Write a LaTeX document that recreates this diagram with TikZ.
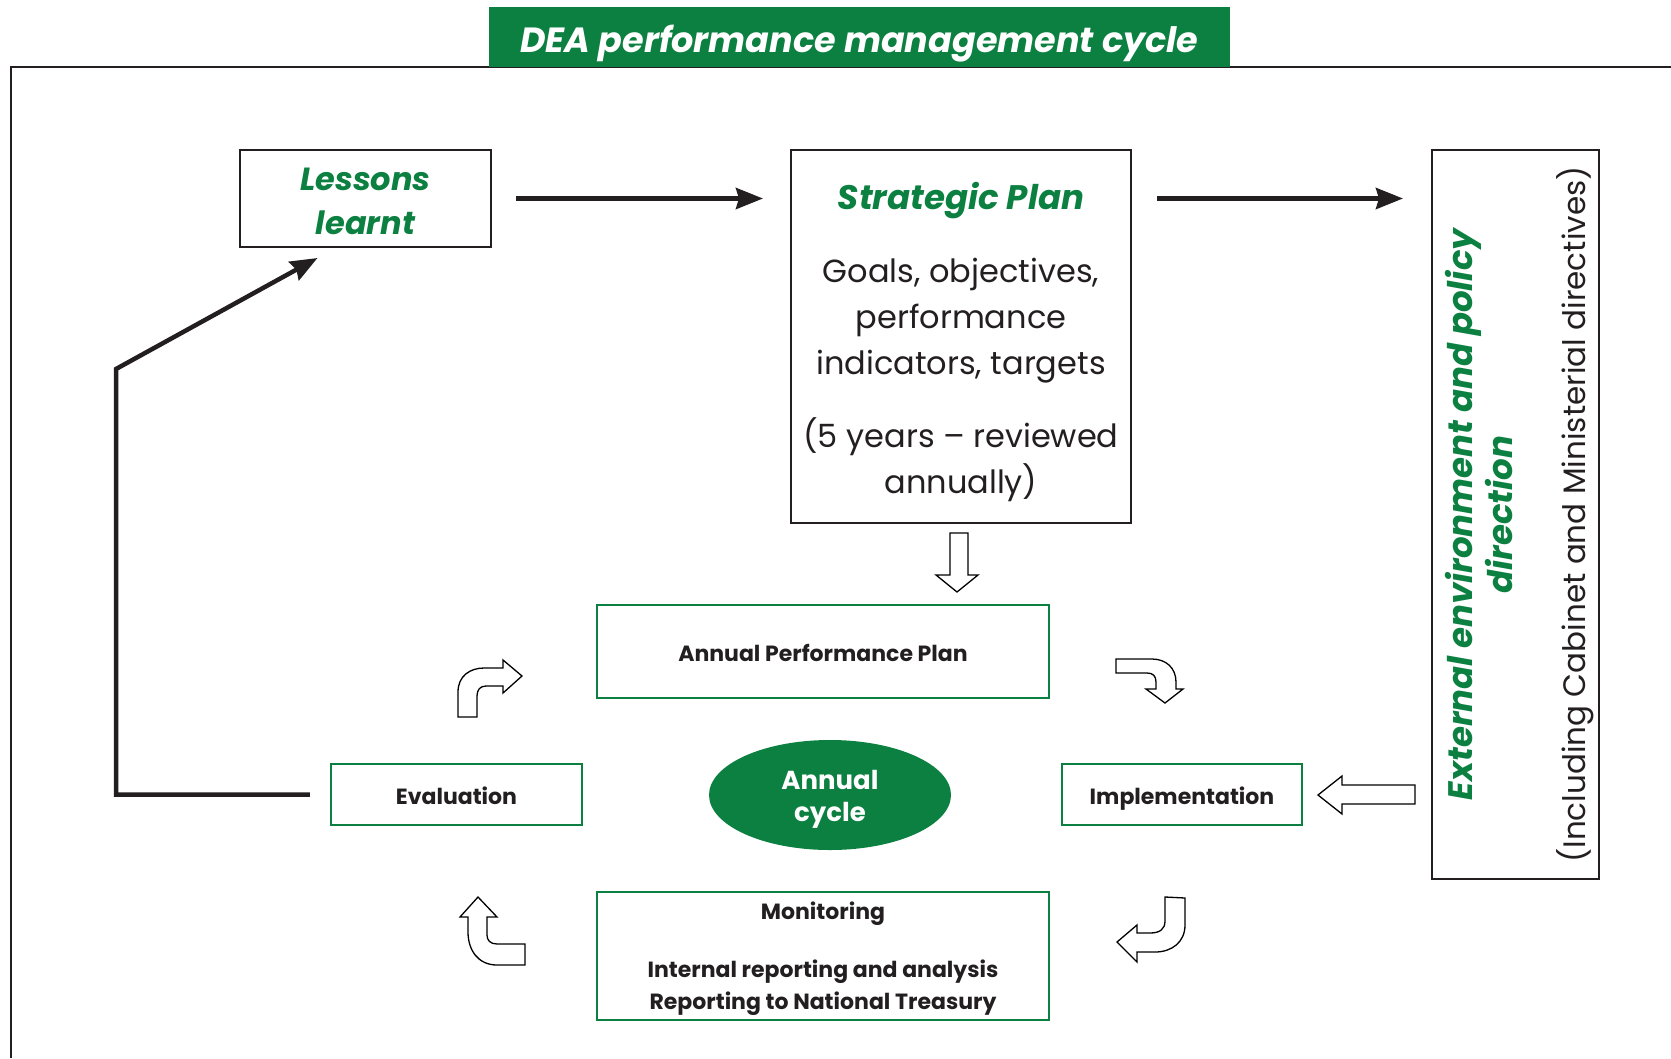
\documentclass[tikz,border=0pt]{standalone}
\usepackage{fontspec}
\setmainfont{Poppins}
\usetikzlibrary{arrows.meta,calc,shapes.geometric}
\definecolor{deagreen}{RGB}{11,128,64}
\definecolor{ink}{RGB}{35,31,32}
\tikzset{plainbox/.style={rectangle,draw=ink,line width=2pt,inner sep=0pt}}
\tikzset{cyclebox/.style={rectangle,draw=deagreen,line width=2.5pt,inner sep=0pt,text=ink,text height=19pt,text depth=0pt,font=\fontsize{22}{32}\selectfont\bfseries}}
\tikzset{boxlabel/.style={align=center,text=ink,inner sep=0pt}}
\tikzset{flow/.style={draw=ink,line width=4.5pt,-{Stealth[length=27pt,width=21pt,inset=3pt]}}}
\tikzset{hollow/.style={draw=black,line width=1.3pt,fill=white,line join=miter}}

\begin{document}
\begin{tikzpicture}[x=1pt,y=-1pt]
  \useasboundingbox (0,0) rectangle (1671,1058);
  \draw[ink,line width=1.5pt] (11,1058) -- (11,67) -- (1671,67);
  \node[fill=deagreen,minimum width=741pt,minimum height=60pt,inner sep=0pt,text=white,text height=30pt,text depth=0pt,font=\fontsize{35}{40}\selectfont\bfseries\itshape] (title) at (859.5,37) {DEA performance management cycle};
  \node[plainbox,minimum width=251pt,minimum height=97pt] (lessons) at (365.5,198.5) {};
  \node[boxlabel,text=deagreen,font=\fontsize{32}{44}\selectfont\bfseries\itshape] (lessonstext) at ($(lessons)+(0,2.6)$) {Lessons\\ learnt};
  \node[plainbox,minimum width=340pt,minimum height=373pt] (strat) at (961,336.5) {};
  \node[boxlabel,font=\fontsize{32}{46}\selectfont] (strattext) at ($(strat)+(0,5.5)$) {{\color{deagreen}\bfseries\itshape\fontsize{34}{46}\selectfont Strategic Plan}\\[27.5pt] Goals, objectives,\\ performance\\ indicators, targets\\[26.5pt] (5 years -- reviewed\\ annually)};
  \node[plainbox,minimum width=167pt,minimum height=729pt] (external) at (1515.5,514.5) {};
  \node[boxlabel,rotate=90,font=\fontsize{31}{40}\selectfont] (externaltext) at ($(external)+(4.5,0)$) {{\color{deagreen}\bfseries\itshape\fontsize{34}{39.5}\selectfont External environment and policy}\\ {\color{deagreen}\bfseries\itshape\fontsize{34}{39.5}\selectfont direction}\\[33pt] (Including Cabinet and Ministerial directives)};
  \node[cyclebox,minimum width=452pt,minimum height=93pt] (app) at (823,651.5) {Annual Performance Plan};
  \node[cyclebox,minimum width=452pt,minimum height=128pt] (mon) at (823,956) {};
  \node[boxlabel,font=\fontsize{22}{32}\selectfont\bfseries] (montext) at ($(mon)+(0,3)$) {Monitoring\\[26pt] Internal reporting and analysis\\ Reporting to National Treasury};
  \node[cyclebox,minimum width=251pt,minimum height=61pt] (eval) at (456.5,794.5) {Evaluation};
  \node[cyclebox,minimum width=240pt,minimum height=61pt] (impl) at (1182,794.5) {Implementation};
  \node[ellipse,fill=deagreen,inner sep=0pt,minimum width=242pt,minimum height=110pt] (cycle) at (830,795) {};
  \node[boxlabel,text=white,font=\fontsize{26}{32}\selectfont\bfseries] (cycletext) at ($(cycle)+(0,4)$) {Annual\\ cycle};
  \draw[flow,shorten <=24pt,shorten >=27pt] (lessons.east) -- (lessons.east -| strat.west);
  \draw[flow,shorten <=25pt,shorten >=28pt] (lessons.east -| strat.east) -- (lessons.east -| external.west);
  \coordinate (elbow) at (116,794.5);
  \coordinate (knee) at (116,369);
  \coordinate (lessonsin) at ($(lessons.south)+(-48,10)$);
  \draw[flow,shorten <=20pt] (eval.west) -- (elbow) -- (knee) -- (lessonsin);
  \draw[hollow] (950,533) -- (968,533) -- (968,575) -- (978,575) -- (957,592) -- (936,575) -- (950,575) -- cycle;
  \draw[hollow] (1415,785) -- (1342,785) -- (1342,776) -- (1318,795) -- (1342,814) -- (1342,804) -- (1415,804) -- cycle;
  \draw[hollow] (458,717) -- (458,692) .. controls (458,676) and (470,668) .. (484,668) -- (503,668) -- (503,660) -- (522,676) -- (503,693) -- (503,686) -- (486,686) .. controls (480,686) and (477,690) .. (477,696) -- (477,717) -- cycle;
  \draw[hollow] (1116,659) -- (1152,659) .. controls (1166,659) and (1176,668) .. (1176,682) -- (1176,689) -- (1183,689) -- (1165,703) -- (1146,689) -- (1156,689) -- (1156,682) .. controls (1156,676) and (1153,673) .. (1147,673) -- (1116,673) -- cycle;
  \draw[hollow] (1165,897) -- (1185,898) -- (1185,925) .. controls (1185,942) and (1172,952) .. (1155,952) -- (1137,952) -- (1137,962) -- (1117,942) -- (1137,925) -- (1137,933) -- (1150,933) .. controls (1160,933) and (1165,929) .. (1165,921) -- cycle;
  \draw[hollow] (478,897) -- (497,917) -- (487,917) -- (487,935) .. controls (487,940) and (490,944) .. (497,944) -- (525,944) -- (525,965) -- (497,965) .. controls (478,965) and (468,950) .. (468,932) -- (468,917) -- (460,917) -- cycle;
\end{tikzpicture}
\end{document}
